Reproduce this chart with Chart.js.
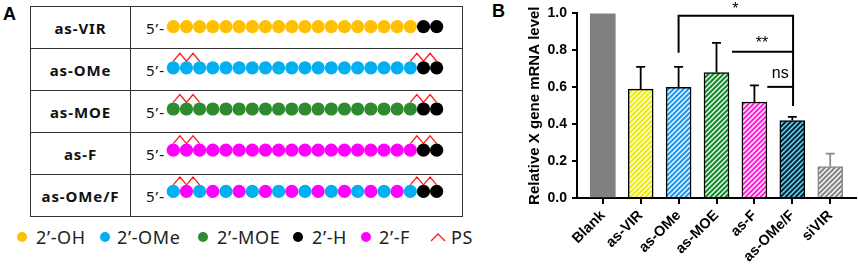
<!DOCTYPE html>
<html>
<head>
<meta charset="utf-8">
<script src="https://cdn.jsdelivr.net/npm/chart.js"></script>
<style>
html, body { margin: 0; padding: 0; background: #fff; }
#page { position: relative; width: 858px; height: 264px; overflow: hidden; font-family: "Noto Sans", sans-serif; color: #111; }
.letter { position: absolute; font: bold 18px "Liberation Sans", Arial, sans-serif; color: #000; }
#tbl { position: absolute; left: 30px; top: 6px; width: 433px; height: 206px; border-collapse: collapse; }
#tbl td { border: 1.5px solid #333; padding: 0; height: 41px; }
#tbl td.name { width: 99px; text-align: center; font: bold 15px "Noto Sans", sans-serif; letter-spacing: 0.9px; color: #111; }
#tbl td.seq { padding-left: 15px; font: 15px "Noto Sans", sans-serif; letter-spacing: 1px; }
#dots { position: absolute; left: 30px; top: 6px; }
#legend { position: absolute; left: 0; top: 225px; width: 500px; height: 24px; font: 18px "Noto Sans", sans-serif; color: #222; }
#legend .dot { position: absolute; top: 7px; width: 10px; height: 10px; border-radius: 50%; }
#legend .lab { position: absolute; top: 0; line-height: 24px; letter-spacing: 0.6px; white-space: nowrap; }
#barChart { position: absolute; left: 500px; top: 0; }
</style>
</head>
<body>
<div id="page">
  <div class="letter" style="left:3px;top:4px;">A</div>
  <table id="tbl"></table>
  <canvas id="dots" width="433" height="206"></canvas>
  <div id="legend"></div>
  <div class="letter" style="left:492px;top:1px;">B</div>
  <canvas id="barChart" width="358" height="264"></canvas>
</div>
<script>
// ---- panel A data ----
var oligoNames = ['as-VIR', 'as-OMe', 'as-MOE', 'as-F', 'as-OMe/F'];
// O = 2'-OH, M = 2'-OMe, E = 2'-MOE, H = 2'-H, F = 2'-F
var oligoSeqs = [
    'OOOOOOOOOOOOOOOOOOOHH',
    'MMMMMMMMMMMMMMMMMMMHH',
    'EEEEEEEEEEEEEEEEEEEHH',
    'FFFFFFFFFFFFFFFFFFFHH',
    'MFMFMFMFMFMFMFMFMFMHH'
];
// phosphorothioate links (link k joins nucleotide k and k+1)
var psLinks = [[], [0, 1, 18, 19], [0, 1, 18, 19], [0, 1, 18, 19], [0, 1, 18, 19]];
var legendCodes = ['O', 'M', 'E', 'H', 'F'];
var legendLabels = ['2\u2019-OH', '2\u2019-OMe', '2\u2019-MOE', '2\u2019-H', '2\u2019-F'];

// ---- panel B data ----
var categories = ['Blank', 'as-VIR', 'as-OMe', 'as-MOE', 'as-F', 'as-OMe/F', 'siVIR'];
var meanLevels = [1.0, 0.59, 0.60, 0.68, 0.52, 0.42, 0.17];
var errorTops = [null, 0.71, 0.71, 0.84, 0.61, 0.44, 0.24];
var yTicks = [0, 0.2, 0.4, 0.6, 0.8, 1.0];
// significance brackets: path in (category, value) and label
var sigMarks = [
    { path: [[2, 0.787], [2, 0.987], [5.02, 0.987], [5.02, 0.499]], text: '*', at: [3.5, 1.02] },
    { path: [[3.41, 0.792], [5.02, 0.792]], text: '**', at: [4.2, 0.835] },
    { path: [[4.34, 0.602], [5.02, 0.602]], text: 'ns', at: [4.68, 0.675] }
];

var codeColors = { O: '#FFC000', M: '#00B0F0', E: '#2E8B2E', H: '#000000', F: '#FF00FF' };

// table
var tbl = document.getElementById('tbl');
for (let r = 0; r < oligoNames.length; r++) {
    var tr = document.createElement('tr');
    tr.innerHTML = '<td class="name">' + oligoNames[r] + '</td><td class="seq">5\u2019-</td>';
    tbl.appendChild(tr);
}

// legend (x positions of each key)
var legend = document.getElementById('legend');
var keyLeft = [17, 100, 198, 293, 361];
var textLeft = [36, 117, 217, 312, 379];
for (let i = 0; i < legendCodes.length; i++) {
    legend.innerHTML += '<span class="dot" style="left:' + keyLeft[i] + 'px;background:' + codeColors[legendCodes[i]] + '"></span>' +
        '<span class="lab" style="left:' + textLeft[i] + 'px">' + legendLabels[i] + '</span>';
}
legend.innerHTML += '<svg width="16" height="10" style="position:absolute;left:430px;top:7px"><polyline points="1,9 8,2 15,9" fill="none" stroke="#ff1a1a" stroke-width="1.4"/></svg>' +
    '<span class="lab" style="left:451px">PS</span>';

// dots chart (panel A)
var dotDatasets = [];
for (let r = 0; r < oligoSeqs.length; r++) {
    var codes = oligoSeqs[r].split('');
    dotDatasets.push({
        data: codes.map((c, i) => ({ x: i, y: r })),
        pointBackgroundColor: codes.map(c => codeColors[c]),
        pointBorderWidth: 0,
        pointRadius: 6.6
    });
    var zig = [];
    for (let j = 0; j < psLinks[r].length; j++) {
        var k = psLinks[r][j];
        if (j > 0 && psLinks[r][j - 1] !== k - 1) zig.push({ x: k - 0.5, y: null });
        zig.push({ x: k, y: r - 0.16 }, { x: k + 0.5, y: r - 0.35 }, { x: k + 1, y: r - 0.16 });
    }
    if (zig.length) {
        dotDatasets.push({
            data: zig,
            showLine: true,
            spanGaps: false,
            borderColor: '#ff1a1a',
            borderWidth: 1.3,
            pointRadius: 0,
            tension: 0
        });
    }
}

new Chart(document.getElementById('dots'), {
    type: 'scatter',
    data: { datasets: dotDatasets },
    options: {
        responsive: false,
        animation: false,
        events: [],
        layout: { autoPadding: false, padding: 0 },
        plugins: { legend: { display: false }, tooltip: { enabled: false } },
        scales: {
            x: { type: 'linear', display: false, min: -10.88, max: 22.0 },
            y: { type: 'linear', display: false, min: -0.5, max: 4.5, reverse: true }
        }
    }
});

// bar chart (panel B)
function hatch(bg, fg) {
    var c = document.createElement('canvas');
    c.width = 5; c.height = 5;
    var g = c.getContext('2d');
    g.fillStyle = bg; g.fillRect(0, 0, 5, 5);
    g.strokeStyle = fg; g.lineWidth = 1.35;
    g.beginPath();
    g.moveTo(-1, 6); g.lineTo(6, -1);
    g.moveTo(-1, 1); g.lineTo(1, -1);
    g.moveTo(4, 6); g.lineTo(6, 4);
    g.stroke();
    return g.createPattern(c, 'repeat');
}

var fills = [
    '#808080',
    hatch('#eeec00', '#ffffff'),
    hatch('#1a98f2', '#ffffff'),
    hatch('#108c2a', '#ffffff'),
    hatch('#ff22d8', '#ffffff'),
    hatch('#06283a', '#6ee3ff'),
    hatch('#858585', '#ffffff')
];
var edges = ['#808080', '#000', '#000', '#000', '#000', '#000', '#8a8a8a'];
var edgeWidths = [0, 1.5, 1.5, 1.5, 1.5, 1.5, 1.5];
var errColors = ['#000', '#000', '#000', '#000', '#000', '#000', '#8a8a8a'];

var errorBars = {
    id: 'errorBars',
    afterDatasetsDraw(chart) {
        var x = chart.scales.x, y = chart.scales.y, ctx = chart.ctx;
        ctx.save();
        ctx.lineWidth = 1.8;
        for (let i = 0; i < errorTops.length; i++) {
            if (errorTops[i] == null) continue;
            var px = x.getPixelForValue(i);
            var top = y.getPixelForValue(errorTops[i]);
            ctx.strokeStyle = errColors[i];
            ctx.beginPath();
            ctx.moveTo(px, y.getPixelForValue(meanLevels[i]));
            ctx.lineTo(px, top);
            ctx.moveTo(px - 4.5, top);
            ctx.lineTo(px + 4.5, top);
            ctx.stroke();
        }
        ctx.restore();
    }
};

var brackets = {
    id: 'brackets',
    afterDraw(chart) {
        var x = chart.scales.x, y = chart.scales.y, ctx = chart.ctx;
        ctx.save();
        ctx.strokeStyle = '#000';
        ctx.lineWidth = 2;
        ctx.fillStyle = '#000';
        ctx.textAlign = 'center';
        ctx.textBaseline = 'middle';
        ctx.font = '16px "Liberation Sans", Arial, sans-serif';
        sigMarks.forEach(m => {
            ctx.beginPath();
            m.path.forEach((p, j) => {
                var px = x.getPixelForValue(p[0]), py = y.getPixelForValue(p[1]);
                if (j === 0) ctx.moveTo(px, py); else ctx.lineTo(px, py);
            });
            ctx.stroke();
            ctx.fillText(m.text, x.getPixelForValue(m.at[0]), y.getPixelForValue(m.at[1]));
        });
        ctx.restore();
    }
};

var axisFont = { family: '"Liberation Sans", Arial, sans-serif', size: 14, weight: 'bold' };

new Chart(document.getElementById('barChart'), {
    type: 'bar',
    data: {
        datasets: [{
            data: meanLevels.map((v, i) => ({ x: i, y: v })),
            backgroundColor: fills,
            borderColor: edges,
            borderWidth: edgeWidths,
            borderSkipped: 'bottom',
            barThickness: 25
        }]
    },
    options: {
        responsive: false,
        animation: false,
        events: [],
        layout: { autoPadding: false, padding: { top: 13, right: 2, left: 0, bottom: 0 } },
        plugins: { legend: { display: false }, tooltip: { enabled: false } },
        scales: {
            x: {
                type: 'linear',
                min: -0.68,
                max: 6.68,
                offset: false,
                afterBuildTicks: s => { s.ticks = categories.map((c, i) => ({ value: i })); },
                afterFit: s => { s.height = 66; },
                grid: { display: true, offset: false, drawOnChartArea: false, drawTicks: true, tickLength: 6, color: '#000', lineWidth: 2 },
                border: { display: true, color: '#000', width: 2 },
                ticks: {
                    autoSkip: false,
                    minRotation: 45,
                    maxRotation: 45,
                    padding: 3,
                    color: '#000',
                    font: { family: '"Liberation Sans", Arial, sans-serif', size: 14.5, weight: 'bold' },
                    callback: v => categories[v]
                }
            },
            y: {
                min: 0,
                max: 1,
                afterBuildTicks: s => { s.ticks = yTicks.map(v => ({ value: v })); },
                afterFit: s => { s.width = 77; },
                grid: { display: true, drawOnChartArea: false, drawTicks: true, tickLength: 5, color: '#000', lineWidth: 2 },
                border: { display: true, color: '#000', width: 2 },
                ticks: { padding: 5, color: '#000', font: axisFont, callback: v => v.toFixed(1) },
                title: {
                    display: true,
                    text: 'Relative X gene mRNA level',
                    color: '#000',
                    font: { family: '"Liberation Sans", Arial, sans-serif', size: 15, weight: 'bold' },
                    padding: { top: 26, bottom: 0 }
                }
            }
        }
    },
    plugins: [errorBars, brackets]
});
</script>
</body>
</html>
